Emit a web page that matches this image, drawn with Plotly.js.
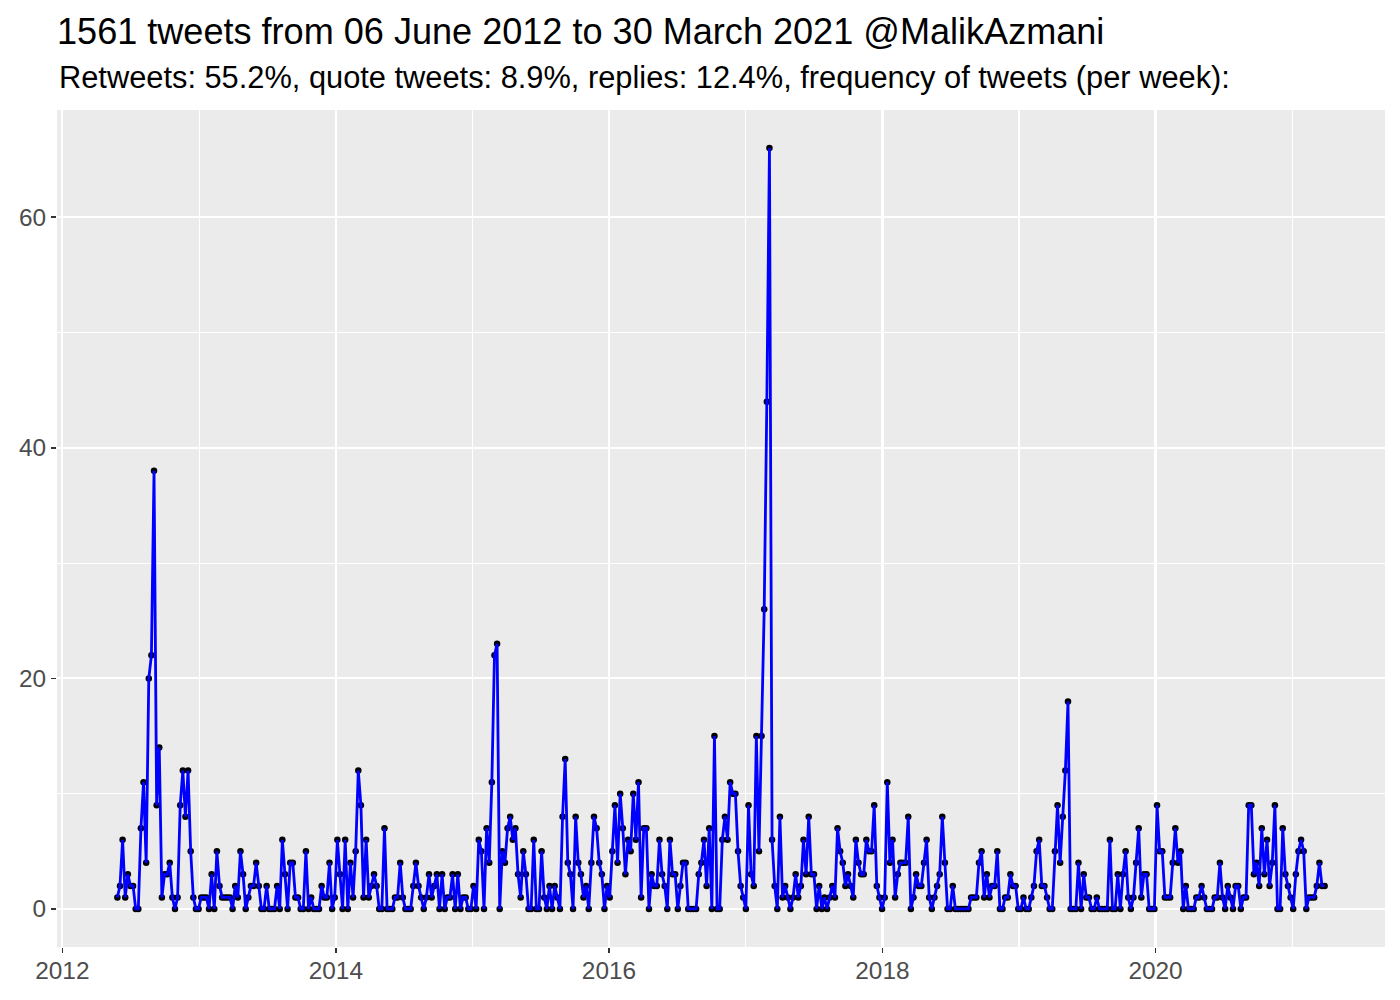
<!DOCTYPE html>
<html>
<head>
<meta charset="utf-8">
<script src="https://cdn.plot.ly/plotly-3.0.1.min.js"></script>
<style>
  html, body { margin: 0; padding: 0; background: #ffffff; }
  #chart { width: 1400px; height: 1000px; }
</style>
</head>
<body>
<div id="chart"></div>
<script>
// ---- data ----
const titleText = '1561 tweets from 06 June 2012 to 30 March 2021 @MalikAzmani';
const subtitleText = 'Retweets: 55.2%, quote tweets: 8.9%, replies: 12.4%, frequency of tweets (per week):';

// first weekly bin; one value per consecutive week
const weekStart = '2012-05-27';
const weeklyTweets = [
  1,2,6,1,3,2,2,0,0,7,
  11,4,20,22,38,9,14,1,3,3,
  4,1,0,1,9,12,8,12,5,1,
  0,0,1,1,1,0,3,0,5,2,
  1,1,1,1,0,2,1,5,3,0,
  1,2,2,4,2,0,0,2,0,0,
  0,2,0,6,3,0,4,4,1,1,
  0,0,5,0,1,0,0,0,2,1,
  1,4,0,1,6,3,0,6,0,4,
  1,5,12,9,1,6,1,2,3,2,
  0,0,7,0,0,0,1,1,4,1,
  0,0,0,2,4,2,1,0,1,3,
  1,2,3,0,3,0,1,1,3,0,
  3,0,1,1,0,0,2,0,6,5,
  0,7,4,11,22,23,0,5,4,7,
  8,6,7,3,1,5,3,0,0,6,
  0,0,5,1,0,2,0,2,1,0,
  8,13,4,3,0,8,4,3,1,2,
  0,4,8,7,4,3,0,2,1,5,
  9,4,10,7,3,6,5,10,6,11,
  1,7,7,0,3,2,2,6,3,2,
  0,6,3,3,0,2,4,4,0,0,
  0,0,3,4,6,2,7,0,15,0,
  0,6,8,6,11,10,10,5,2,1,
  0,9,3,2,15,5,15,26,44,66,
  6,2,0,8,1,2,1,0,1,3,
  1,2,6,3,8,3,3,0,2,0,
  1,0,1,2,1,7,5,4,2,3,
  2,1,6,4,3,3,6,5,5,9,
  2,1,0,1,11,4,6,1,3,4,
  4,4,8,0,1,3,2,2,4,6,
  1,0,1,2,3,8,4,0,0,2,
  0,0,0,0,0,0,1,1,1,4,
  5,1,3,1,2,2,5,0,0,1,
  1,3,2,2,0,0,1,0,0,1,
  2,5,6,2,2,1,0,0,5,9,
  4,8,12,18,0,0,0,4,0,3,
  1,1,0,0,1,0,0,0,0,6,
  0,0,3,0,3,5,1,0,1,4,
  7,1,3,3,0,0,0,9,5,5,
  1,1,1,4,7,4,5,0,2,0,
  0,0,1,1,2,1,0,0,0,1,
  1,4,1,0,2,1,0,2,2,0,
  1,1,9,9,3,4,2,7,3,6,
  2,4,9,0,0,7,3,2,1,0,
  3,5,6,5,0,1,1,1,2,4,
  2,2
];

const yTickValues = [0, 20, 40, 60];
const yTickLabels = ['0', '20', '40', '60'];
const xTickValues = ['2012-01-01', '2014-01-01', '2016-01-01', '2018-01-01', '2020-01-01'];
const xTickLabels = ['2012', '2014', '2016', '2018', '2020'];

// ---- build week dates ----
const DAY = 86400000;
const t0 = Date.parse(weekStart + 'T00:00:00Z');
const weekDates = weeklyTweets.map((_, i) => new Date(t0 + i * 7 * DAY).toISOString().slice(0, 10));

// ggplot-like 5% expansion of the scales
const tFirst = t0, tLast = t0 + (weeklyTweets.length - 1) * 7 * DAY;
const xPad = (tLast - tFirst) * 0.05;
const xRange = [new Date(tFirst - xPad).toISOString(), new Date(tLast + xPad).toISOString()];
const yMax = Math.max(...weeklyTweets);
const yRange = [-yMax * 0.05, yMax * 1.05];

const FONT = 'Liberation Sans, Arial, Helvetica, sans-serif';

const pointsTrace = {
  x: weekDates, y: weeklyTweets, type: 'scatter', mode: 'markers',
  marker: { color: '#000000', size: 6.5 },
  hoverinfo: 'skip', showlegend: false
};
const lineTrace = {
  x: weekDates, y: weeklyTweets, type: 'scatter', mode: 'lines',
  line: { color: '#0000FF', width: 2.8 },
  showlegend: false
};

const layout = {
  width: 1400, height: 1000,
  paper_bgcolor: '#FFFFFF', plot_bgcolor: '#EBEBEB',
  margin: { l: 57, r: 15, t: 110, b: 53 },
  font: { family: FONT, color: '#000000' },
  title: {
    text: titleText,
    font: { family: FONT, size: 36.1, color: '#000000' },
    x: 0, xref: 'paper', xanchor: 'left',
    y: 1 - 31 / 1000, yref: 'container', yanchor: 'middle'
  },
  annotations: [{
    text: subtitleText, showarrow: false,
    xref: 'paper', x: 0, xanchor: 'left',
    yref: 'paper', y: 1 + (110 - 77.5) / 837, yanchor: 'middle',
    font: { family: FONT, size: 30.8, color: '#000000' }
  }],
  xaxis: {
    type: 'date', range: xRange,
    tickmode: 'array', tickvals: xTickValues, ticktext: xTickLabels,
    ticks: 'outside', ticklen: 5, tickwidth: 1.5, tickcolor: '#333333',
    ticklabelstandoff: -3,
    tickfont: { family: FONT, size: 24.4, color: '#4D4D4D' },
    showgrid: true, gridcolor: '#FFFFFF', gridwidth: 2.2,
    minor: { dtick: 'M12', tick0: '2011-01-01', showgrid: true, gridcolor: '#FFFFFF', gridwidth: 1.1, ticks: '' },
    zeroline: false, showline: false, fixedrange: true
  },
  yaxis: {
    range: yRange,
    tickmode: 'array', tickvals: yTickValues, ticktext: yTickLabels,
    ticks: 'outside', ticklen: 5, tickwidth: 1.5, tickcolor: '#333333',
    tickfont: { family: FONT, size: 24.4, color: '#4D4D4D' },
    showgrid: true, gridcolor: '#FFFFFF', gridwidth: 2.2,
    minor: { tickmode: 'array', tickvals: [10, 30, 50], showgrid: true, gridcolor: '#FFFFFF', gridwidth: 1.1, ticks: '' },
    zeroline: false, showline: false, fixedrange: true
  }
};

Plotly.newPlot('chart', [pointsTrace, lineTrace], layout, { displayModeBar: false, staticPlot: true });
</script>
</body>
</html>
